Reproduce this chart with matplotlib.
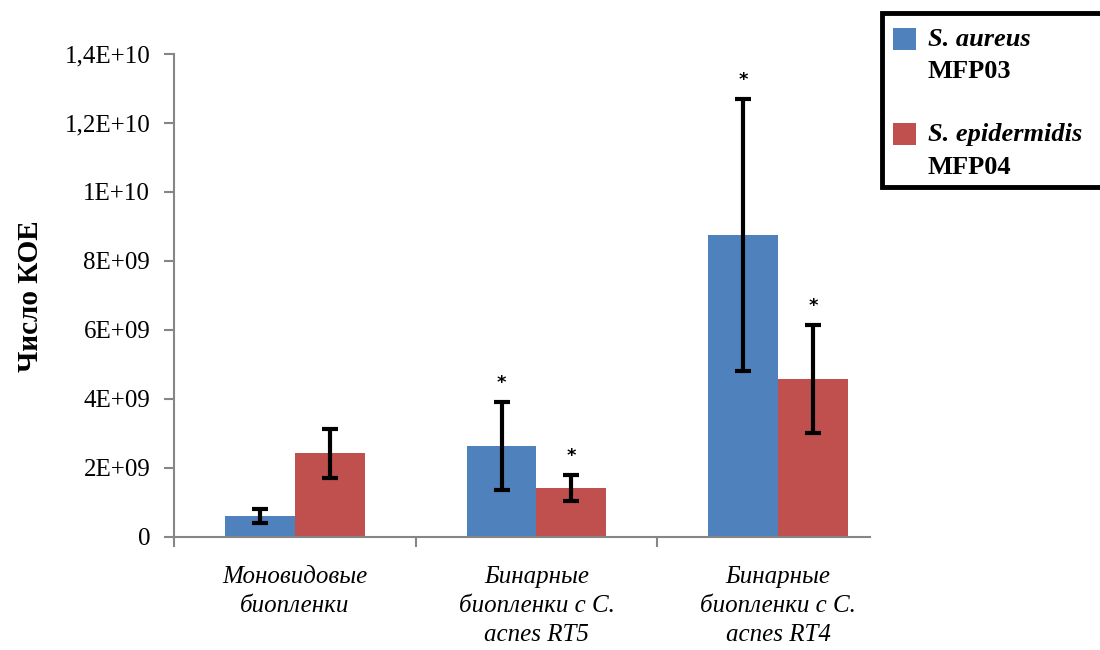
import matplotlib
matplotlib.use("Agg")
import matplotlib.pyplot as plt
import numpy as np
from matplotlib.patches import Rectangle

categories = ["Моновидовые\nбиопленки",
              "Бинарные\nбиопленки с C.\nacnes RT5",
              "Бинарные\nбиопленки с C.\nacnes RT4"]
series_species = ["S. aureus", "S. epidermidis"]
series_strain = ["MFP03", "MFP04"]
aureus = [0.61e9, 2.64e9, 8.75e9]
aureus_err = [0.20e9, 1.27e9, 3.94e9]
epidermidis = [2.43e9, 1.42e9, 4.58e9]
epidermidis_err = [0.71e9, 0.38e9, 1.57e9]
aureus_sig = [False, True, True]
epidermidis_sig = [False, True, True]
yticks = [0, 2e9, 4e9, 6e9, 8e9, 1e10, 1.2e10, 1.4e10]
ytick_labels = ["0", "2E+09", "4E+09", "6E+09", "8E+09", "1E+10", "1,2E+10", "1,4E+10"]

colors = ["#4F81BD", "#C0504D"]
axis_gray = "#868686"
serif = ["Liberation Serif", "DejaVu Serif"]

fig = plt.figure(figsize=(11, 6.5), dpi=100)
ax = fig.add_axes([0.158, 0.174, 0.633, 0.743])

x = np.arange(len(categories))
w = 0.289
for vals, errs, sig, col, off in [(aureus, aureus_err, aureus_sig, colors[0], -w / 2),
                                   (epidermidis, epidermidis_err, epidermidis_sig, colors[1], w / 2)]:
    ax.bar(x + off, vals, width=w, color=col, edgecolor="none", zorder=2)
    ax.errorbar(x + off, vals, yerr=errs, fmt="none", ecolor="black",
                elinewidth=3, capsize=6, capthick=3, zorder=3)
    for xi, v, e, s in zip(x + off, vals, errs, sig):
        if s:
            ax.annotate("*", (xi, v + e), xytext=(0, 7), textcoords="offset points",
                        ha="center", va="bottom", fontsize=13, fontfamily="DejaVu Sans",
                        fontweight="bold")

ax.set_xlim(-0.496, 2.38)
ax.set_ylim(0, 1.4e10)
ax.set_yticks(yticks)
ax.set_yticklabels(ytick_labels, fontfamily=serif, fontsize=18)
ax.set_xticks([-0.5, 0.5, 1.5])
ax.set_xticklabels([])
ax.set_xticks(x, minor=True)
ax.set_xticklabels(categories, minor=True, fontfamily=serif, fontsize=18,
                   fontstyle="italic", linespacing=1.4)
ax.tick_params(axis="x", which="minor", length=0, pad=21)
ax.tick_params(axis="x", which="major", length=7, width=1.5, color=axis_gray, direction="out")
ax.tick_params(axis="y", length=7, width=1.5, color=axis_gray, direction="out", pad=10)

for s in ["top", "right"]:
    ax.spines[s].set_visible(False)
for s in ["left", "bottom"]:
    ax.spines[s].set_color(axis_gray)
    ax.spines[s].set_linewidth(1.5)

fig.text(0.028, 0.545, "Число КОЕ", rotation=90, ha="center", va="center",
         fontfamily=serif, fontsize=21, fontweight="bold")

# legend box
fig.patches.append(Rectangle((882 / 1100, 1 - 187 / 650), 240 / 1100, 174 / 650,
                             transform=fig.transFigure, facecolor="white",
                             edgecolor="black", linewidth=3.5, clip_on=False))
ys = [39, 134]
for i in range(2):
    yc = ys[i]
    fig.patches.append(Rectangle((893 / 1100, 1 - (yc + 11) / 650), 23 / 1100, 22 / 650,
                                 transform=fig.transFigure, facecolor=colors[i],
                                 edgecolor="none"))
    fig.text(928 / 1100, 1 - yc / 650, series_species[i], ha="left", va="center",
             fontfamily=serif, fontsize=19, fontweight="bold", fontstyle="italic")
    fig.text(928 / 1100, 1 - (yc + 33) / 650, series_strain[i], ha="left", va="center",
             fontfamily=serif, fontsize=19, fontweight="bold")

fig.savefig("out.png", dpi=100)
